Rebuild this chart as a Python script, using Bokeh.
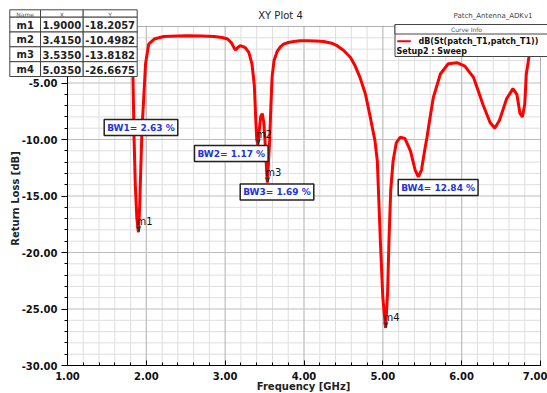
from bokeh.plotting import figure
from bokeh.models import (Range1d, SingleIntervalTicker, NumeralTickFormatter, Label,
                          BoxAnnotation)
from bokeh.embed import file_html
from bokeh.resources import INLINE
import math

# ---------------- data ----------------
freq = [1.00, 1.20, 1.40, 1.60, 1.70, 1.78, 1.81, 1.83, 1.845, 1.86, 1.88, 1.90,
        1.915, 1.93, 1.945, 1.965, 1.99, 2.03, 2.10, 2.22, 2.40, 2.52, 2.70, 2.86,
        2.96, 3.03, 3.08, 3.11, 3.13, 3.16, 3.19, 3.23, 3.26, 3.30, 3.34, 3.37,
        3.39, 3.40, 3.415, 3.435, 3.45, 3.47, 3.49, 3.505, 3.52, 3.535, 3.55, 3.565,
        3.58, 3.595, 3.62, 3.66, 3.70, 3.74, 3.80, 3.87, 3.95, 4.04, 4.15, 4.25,
        4.35, 4.42, 4.50, 4.59, 4.65, 4.71, 4.78, 4.84, 4.90, 4.93, 4.97, 5.00,
        5.035, 5.06, 5.08, 5.10, 5.13, 5.17, 5.22, 5.28, 5.35, 5.41, 5.45, 5.49,
        5.53, 5.56, 5.60, 5.64, 5.73, 5.83, 5.94, 6.04, 6.15, 6.27, 6.36, 6.42,
        6.48, 6.57, 6.65, 6.70, 6.74, 6.77, 6.80, 6.82, 6.86, 6.88, 6.92, 6.96]
return_loss = [-0.6, -0.7, -0.9, -1.3, -1.7, -2.4, -3.2, -4.3, -10.0, -14.0, -17.0, -18.2057,
               -16.0, -12.5, -9.0, -6.6, -3.3, -1.56, -1.11, -0.88, -0.83, -0.82, -0.84, -0.88,
               -0.98, -1.11, -1.45, -1.85, -2.09, -1.85, -1.70, -1.78, -1.91, -2.29, -3.3, -5.2,
               -8.5, -9.9, -10.4982, -9.0, -8.0, -7.7, -8.5, -10.0, -12.0, -13.8182, -12.0, -10.0,
               -7.0, -4.5, -3.0, -2.2, -1.8, -1.56, -1.42, -1.32, -1.27, -1.26, -1.28, -1.32,
               -1.48, -1.70, -2.10, -2.74, -3.5, -4.5, -6.0, -8.0, -10.1, -11.9, -19.2, -24.0,
               -26.6675, -23.6, -18.5, -14.5, -11.9, -10.3, -9.8, -9.9, -11.0, -12.7, -13.3, -12.7,
               -11.0, -9.8, -8.0, -6.3, -4.2, -3.3, -3.2, -3.5, -4.5, -6.9, -8.5, -9.0,
               -8.3, -6.4, -5.5, -6.0, -7.7, -8.0, -6.9, -4.2, -2.4, -1.3, -0.6, -0.2]

marker_names = ["m1", "m2", "m3", "m4"]
marker_x = [1.9000, 3.4150, 3.5350, 5.0350]
marker_y = [-18.2057, -10.4982, -13.8182, -26.6675]
marker_x_text = ["1.9000", "3.4150", "3.5350", "5.0350"]
marker_y_text = ["-18.2057", "-10.4982", "-13.8182", "-26.6675"]

bw_labels = ["BW1= 2.63 %", "BW2= 1.17 %", "BW3= 1.69 %", "BW4= 12.84 %"]

X_MIN, X_MAX, X_STEP, X_MINOR = 1.0, 7.0, 1.0, 5
Y_MIN, Y_MAX, Y_STEP, Y_MINOR = -30.0, 0.0, 5.0, 5

FONT = "DejaVu Sans"
W, H = 547, 393
# page position of the data area
PL, PR, PT, PB = 67.0, 540.0, 26.0, 365.0
kx = (PR - PL) / (X_MAX - X_MIN)
ky = (PB - PT) / (Y_MAX - Y_MIN)
x_range = Range1d(X_MIN - PL / kx, X_MAX + (W - PR) / kx)
y_range = Range1d(Y_MIN - (H - PB) / ky, Y_MAX + PT / ky)

p = figure(width=W, height=H, x_range=x_range, y_range=y_range,
           output_backend="svg", toolbar_location=None,
           min_border_left=0, min_border_right=0, min_border_top=0, min_border_bottom=0)
p.outline_line_color = None

xt = SingleIntervalTicker(interval=X_STEP, num_minor_ticks=X_MINOR)
yt = SingleIntervalTicker(interval=Y_STEP, num_minor_ticks=Y_MINOR)
p.xaxis.ticker = xt
p.yaxis.ticker = yt
p.xaxis.fixed_location = Y_MIN
p.yaxis.fixed_location = X_MIN
p.xaxis.bounds = (X_MIN, X_MAX)
p.yaxis.bounds = (Y_MIN, Y_MAX)
for ax in (p.xaxis[0], p.yaxis[0]):
    ax.formatter = NumeralTickFormatter(format="0.00")
    ax.major_label_text_font = FONT
    ax.major_label_text_font_style = "bold"
    ax.major_label_text_font_size = "10px"
    ax.major_label_text_color = "#111111"
    ax.axis_line_color = "black"
    ax.major_tick_line_color = "black"
    ax.minor_tick_line_color = "black"
p.xaxis.major_tick_in = 5
p.xaxis.major_tick_out = 0
p.xaxis.minor_tick_in = 3
p.xaxis.minor_tick_out = 0
p.xaxis.major_label_standoff = 6
p.yaxis.major_tick_in = 0
p.yaxis.major_tick_out = 6
p.yaxis.minor_tick_in = 0
p.yaxis.minor_tick_out = 3
p.yaxis.major_label_standoff = 4
p.xgrid.visible = False
p.ygrid.visible = False

# grid lines restricted to the data area (positions follow the tick spacing)
nx = int(round((X_MAX - X_MIN) / X_STEP)) * X_MINOR
ny = int(round((Y_MAX - Y_MIN) / Y_STEP)) * Y_MINOR
gx = [X_MIN + i * X_STEP / X_MINOR for i in range(1, nx)]
gy = [Y_MIN + i * Y_STEP / Y_MINOR for i in range(1, ny)]
gx_minor = [v for i, v in enumerate(gx, 1) if i % X_MINOR]
gx_major = [v for i, v in enumerate(gx, 1) if not i % X_MINOR]
gy_minor = [v for i, v in enumerate(gy, 1) if i % Y_MINOR]
gy_major = [v for i, v in enumerate(gy, 1) if not i % Y_MINOR]
p.segment(x0=gx_minor, y0=Y_MIN, x1=gx_minor, y1=Y_MAX, line_color="#dedede", line_width=1)
p.segment(x0=X_MIN, y0=gy_minor, x1=X_MAX, y1=gy_minor, line_color="#dedede", line_width=1)
p.segment(x0=gx_major, y0=Y_MIN, x1=gx_major, y1=Y_MAX, line_color="#bdbdbd", line_width=1.2)
p.segment(x0=X_MIN, y0=gy_major, x1=X_MAX, y1=gy_major, line_color="#bdbdbd", line_width=1.2)

p.line(freq, return_loss, line_color="#ff0000", line_width=3)

# data area border (top/right)
p.add_layout(BoxAnnotation(left=X_MIN, right=X_MAX, bottom=Y_MIN, top=Y_MAX,
                           fill_alpha=0, line_color="black", line_width=1))

# markers (triangle + name) as data-anchored labels
for mx, my, mn in zip(marker_x, marker_y, marker_names):
    p.add_layout(Label(x=mx, y=my, text="\u25bc", text_font=FONT, text_font_size="7px",
                       text_color="#333333", text_align="center", text_baseline="bottom",
                       y_offset=-1))
    p.add_layout(Label(x=mx, y=my, text=mn, text_font=FONT, text_font_size="10px",
                       text_color="#111111", text_align="left", text_baseline="bottom",
                       x_offset=-2, y_offset=5))

# page -> screen helpers (screen y measured from the bottom)
def sx(px):
    return px
def sy(py):
    return H - py

def box(x0, x1, y0, y1, fill="white", line="#333333", lw=1):
    p.add_layout(BoxAnnotation(left=sx(x0), right=sx(x1), top=sy(y0), bottom=sy(y1),
                               left_units="screen", right_units="screen",
                               top_units="screen", bottom_units="screen",
                               fill_color=fill, fill_alpha=1.0,
                               line_color=line, line_width=lw, line_alpha=1.0))

def label(px, py, text, size="10px", style="normal", color="#111111", align="left",
          baseline="middle", angle=0, **kw):
    p.add_layout(Label(x=sx(px), y=sy(py), x_units="screen", y_units="screen", text=text,
                       text_font=FONT, text_font_size=size, text_font_style=style,
                       text_color=color, text_align=align, text_baseline=baseline,
                       angle=angle, **kw))

# BW labels
bw_pos = [(101.7, 127.0), (192.0, 153.0), (237.7, 191.5), (395.7, 187.0)]
for (bx, by), t in zip(bw_pos, bw_labels):
    label(bx + 2, by, t, size="9px", style="bold", color="#2233dd",
          background_fill_color="white", border_line_color="#222222",
          border_line_width=1.5, padding=3)

# marker table
cols = [9.3, 40.0, 82.7, 136.7]
rows = [9.3, 16.7, 31.5, 46.3, 61.2, 76.0]
for r in range(5):
    for c in range(3):
        box(cols[c], cols[c + 1], rows[r], rows[r + 1], line="#444444", lw=1)
headers = ["Name", "X", "Y"]
for c in range(3):
    label((cols[c] + cols[c + 1]) / 2, (rows[0] + rows[1]) / 2 + 0.5, headers[c],
          size="6px", color="#555555", align="center")
for r in range(4):
    cy = (rows[r + 1] + rows[r + 2]) / 2 + 0.5
    for c, txt in enumerate([marker_names[r], marker_x_text[r], marker_y_text[r]]):
        label((cols[c] + cols[c + 1]) / 2, cy, txt, size="10px", style="bold",
              color="#222222", align="center")

# curve info box
box(394.5, 560, 24, 56, line="#444444", lw=1)
box(394.5, 560, 24, 33.5, line="#444444", lw=1)
label(466, 29, "Curve Info", size="6px", color="#555555", align="center")
box(397, 410, 40, 41.5, fill="#ff0000", line="#ff0000", lw=0.5)
label(418, 41, "dB(St(patch_T1,patch_T1))", size="8px", style="bold", color="#111111")
label(396, 50.5, "Setup2 : Sweep", size="8px", style="bold", color="#111111")

# titles
label(280, 14.5, "XY Plot 4", size="10px", color="#222222", align="center")
label(453, 15.5, "Patch_Antenna_ADKv1", size="7px", color="#444444")
label(15, 198, "Return Loss [dB]", size="10px", style="bold", color="#222222",
      align="center", angle=math.pi / 2)
label(303, 386, "Frequency [GHz]", size="10px", style="bold", color="#222222",
      align="center")

open("out.html", "w").write(file_html(p, INLINE))
